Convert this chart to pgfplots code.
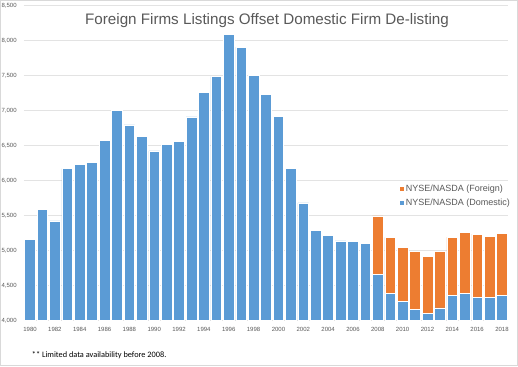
\documentclass[border=0pt]{standalone}
\usepackage{pgfplots}
\pgfplotsset{compat=1.18}
\usepackage{pgfplotstable}
\usepackage{fontspec}
\setmainfont{Liberation Sans}
\newfontfamily\carlito{Carlito}
\definecolor{dom}{HTML}{5B9BD5}
\definecolor{forn}{HTML}{ED7D31}
\definecolor{txt}{HTML}{595959}
\definecolor{gridc}{HTML}{E3E3E3}
\definecolor{framec}{HTML}{D9D9D9}

\pgfplotstableread{
year dom forn
1980 5160 0
1981 5586 0
1982 5423 0
1983 6171 0
1984 6233 0
1985 6257 0
1986 6576 0
1987 7000 0
1988 6795 0
1989 6629 0
1990 6423 0
1991 6514 0
1992 6561 0
1993 6909 0
1994 7257 0
1995 7486 0
1996 8090 0
1997 7909 0
1998 7500 0
1999 7229 0
2000 6919 0
2001 6171 0
2002 5680 0
2003 5290 0
2004 5219 0
2005 5137 0
2006 5129 0
2007 5104 0
2008 4661 833
2009 4390 796
2010 4271 776
2011 4161 825
2012 4094 820
2013 4176 814
2014 4361 829
2015 4380 877
2016 4329 904
2017 4333 871
2018 4351 896
}\datatable

\begin{document}
\begin{tikzpicture}[x=1pt,y=1pt]
\useasboundingbox (0,0) rectangle (518,366);
\fill[white] (0,0) rectangle (518,366);
\begin{axis}[
  at={(23.8pt,45.7pt)}, anchor=south west,
  scale only axis, width=484.4pt, height=314.6pt,
  xmin=1979.5, xmax=2018.5, ymin=4000, ymax=8500,
  ybar stacked, bar width=0.86,
  axis line style={draw=none},
  major tick length=0pt,
  ymajorgrids, grid style={color=gridc, line width=0.6pt},
  ytick={4000,4500,...,8500},
  xtick={1980,1982,...,2018},
  /pgf/number format/assume math mode=true,
  xticklabel style={font=\fontsize{6}{6.5}\selectfont, text=txt, anchor=north, inner sep=0pt, yshift=-7pt, /pgf/number format/1000 sep={}},
  yticklabel style={font=\fontsize{6}{6.5}\selectfont, text=txt, anchor=east, inner sep=0pt, xshift=-7pt, /pgf/number format/1000 sep={,}},
  reverse legend,
  legend style={at={(0.775,0.434)}, anchor=north west, draw=none, fill=none,
    font=\fontsize{9}{10}\selectfont, text=txt, inner sep=0pt, row sep=3.5pt,
    nodes={inner sep=1pt}},
  legend cell align=left,
  legend image code/.code={\fill[#1] (0pt,-2.4pt) rectangle (4.8pt,2.4pt);},
]
\addplot[fill=dom, draw=white, line width=0.6pt] table[x=year, y=dom] {\datatable};
\addplot[fill=forn, draw=white, line width=0.6pt] table[x=year, y=forn] {\datatable};
\legend{NYSE/NASDA (Domestic), NYSE/NASDA (Foreign)}
\end{axis}
\node[font=\fontsize{15.2}{18}\selectfont, text=txt] at (267,345) {Foreign Firms Listings Offset Domestic Firm De-listing};
\node[anchor=west, inner sep=0pt, font=\carlito\fontsize{8.3}{10}\selectfont] at (31.7,10.3) {** Limited data availability before 2008.};
\draw[color=framec, line width=1pt] (0.5,0.5) rectangle (517.5,365.5);
\end{tikzpicture}
\end{document}
